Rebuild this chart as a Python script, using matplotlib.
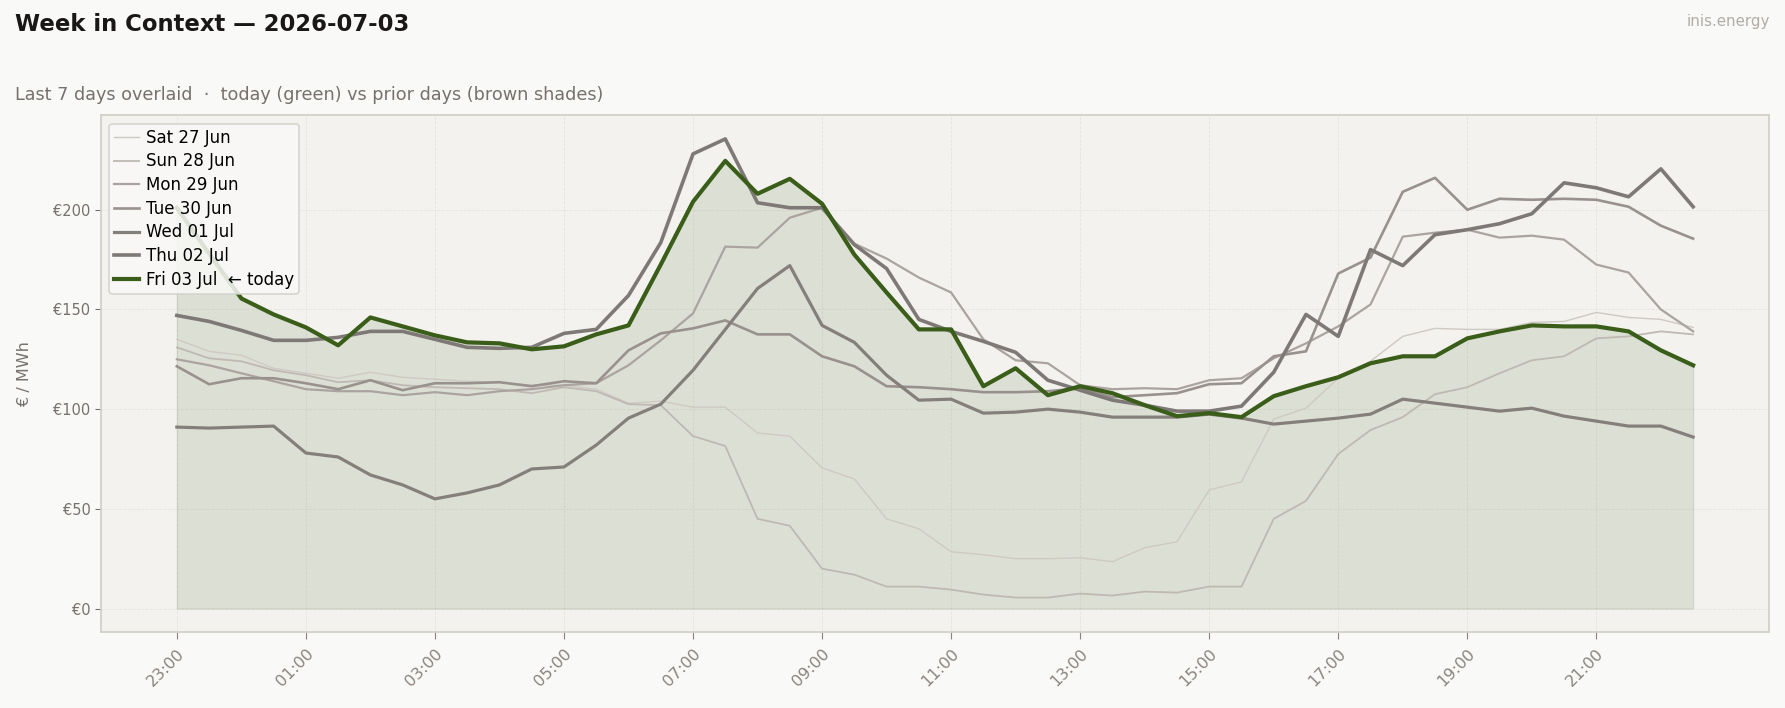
"""Week in context chart: today's price curve against the six prior days."""

import matplotlib
import matplotlib.pyplot as plt
import numpy as np
from matplotlib.ticker import FuncFormatter

matplotlib.use("Agg")

# half-hourly prices, 23:00 -> 22:30 (EUR/MWh)
sat = [135, 129, 127, 120.5, 118, 115.5, 118.5, 116, 115, 114, 113.5, 112, 112, 110,
       103, 104, 101, 101, 88, 86.5, 70.5, 65, 45, 40, 28.5, 27, 25, 25, 25.5,
       23.5, 30.5, 33.5, 59.5, 63.5, 95, 100.5, 115.5, 124, 136.5, 140.5, 140, 140,
       143.5, 144, 148.5, 146, 145, 141]
sun = [131, 125.5, 124, 119.5, 117, 113.5, 114.5, 112, 111, 110.5, 110, 108, 111, 109,
       102.5, 102, 86.5, 81.5, 45, 41.5, 20, 17, 11, 11, 9.5, 7, 5.5, 5.5, 7.5,
       6.5, 8.5, 8, 11, 11, 45, 54, 77.5, 89.5, 96, 107.5, 111, 118, 124.5, 126.5,
       135.5, 136.5, 139, 137.5]
mon = [125, 122, 118, 114, 110, 109, 109, 107, 108.5, 107, 109, 110, 112, 113,
       122, 134.5, 148, 181.5, 181, 196, 201, 183, 175.5, 166, 158.5,
       135, 124.5, 123, 112, 110, 110.5, 110, 114.5, 115.5, 125.5, 133, 141.5, 152.5,
       186.5, 188.5, 190, 186, 187, 185, 172.5, 168.5, 150, 139]
tue = [121.5, 112.5, 115.5, 115.5, 113, 110, 114.5, 109.5, 113, 113, 113.5, 111.5, 114, 113,
       129.5, 138, 140.5, 144.5, 137.5, 137.5, 126.5, 121.5, 111.5, 111, 110, 108.5, 108.5, 109,
       110.5, 106, 107, 108, 112.5, 113, 126.5, 129, 168, 176, 209, 216, 200, 205.5,
       205, 205.5, 205, 201.5, 192, 185.5]
wed = [91, 90.5, 91, 91.5, 78, 76, 67, 62, 55, 58, 62, 70, 71, 82,
       95.5, 102.5, 119.5, 140, 160.5, 172, 142, 133.5, 117, 104.5, 105, 98, 98.5, 100, 98.5,
       96, 96, 96, 97.5, 95.5, 92.5, 94, 95.5, 97.5, 105, 103, 101, 99, 100.5, 96.5,
       94, 91.5, 91.5, 86]
thu = [147, 144, 139.5, 134.5, 134.5, 136, 139, 139, 135, 131, 130.5, 131, 138, 140,
       157, 183.5, 228, 235.5, 203.5, 201, 201, 182.5, 170.5, 145, 139, 134, 128.5, 114.5, 109.5,
       104.5, 102, 99, 99, 101.5, 118.5, 147.5, 136.5, 180, 172, 187.5, 190, 193, 198,
       213.5, 211, 206.5, 220.5, 201.5]
fri = [201, 178, 155.5, 147.5, 141, 132, 146, 141.5, 137, 133.5, 133, 130, 131.5, 137.5,
       142, 172.5, 204, 224.5, 208, 215.5, 203, 177.5, 158.5, 140, 140, 111.5, 120.5, 107, 111.5,
       108, 102, 96.5, 98, 96, 106.5, 111.5, 116, 123, 126.5, 126.5, 135.5, 139, 142,
       141.5, 141.5, 139, 129.5, 122]

prior_days = ["Sat 27 Jun", "Sun 28 Jun", "Mon 29 Jun", "Tue 30 Jun", "Wed 01 Jul", "Thu 02 Jul"]
prior_series = [sat, sun, mon, tue, wed, thu]
today_label = "Fri 03 Jul  \u2190 today"
tick_labels = ["23:00", "01:00", "03:00", "05:00", "07:00", "09:00",
               "11:00", "13:00", "15:00", "17:00", "19:00", "21:00"]

# older days lighter and thinner
prior_colors = ["#cfc9c4", "#bfb8b3", "#aba39f", "#99918d", "#857f7c", "#7e7976"]
prior_widths = [1.0, 1.3, 1.6, 1.9, 2.3, 2.6]
GREEN = "#3a5e1a"
FIG_BG = "#f9f9f7"
AX_BG = "#f3f2ee"
EDGE = "#d3cfc9"


def main() -> None:
    fig = plt.figure(figsize=(17.85, 7.08), dpi=100)
    fig.patch.set_facecolor(FIG_BG)
    ax = fig.add_axes([0.0566, 0.1073, 0.9344, 0.7296])
    ax.set_facecolor(AX_BG)

    x = np.arange(len(fri))
    for label, ys, c, lw in zip(prior_days, prior_series, prior_colors, prior_widths):
        ax.plot(x, ys, color=c, lw=lw, label=label, zorder=2)

    ax.fill_between(x, 0, fri, color=GREEN, alpha=0.12, lw=1, zorder=1)
    ax.plot(x, fri, color=GREEN, lw=3.0, label=today_label, zorder=3)

    ax.set_xticks(x[::4])
    ax.set_xticklabels(tick_labels, rotation=45, ha="right", rotation_mode="anchor",
                       fontsize=11.5, color="#77716d")
    ax.set_yticks([0, 50, 100, 150, 200])
    ax.yaxis.set_major_formatter(FuncFormatter(lambda v, _: f"\u20ac{v:.0f}"))
    ax.tick_params(axis="y", labelsize=10.5, colors="#77716d", length=4)
    ax.tick_params(axis="x", colors="#8a8480", length=5, pad=5)
    ax.set_ylabel("\u20ac / MWh", fontsize=11.5, color="#77716d")
    ax.yaxis.set_label_coords(-0.0415, 0.5)

    ax.grid(True, linestyle="--", color="#e6e3de", lw=0.6)
    ax.set_axisbelow(True)
    for s in ax.spines.values():
        s.set_color(EDGE)
        s.set_linewidth(1.3)

    leg = ax.legend(loc="upper left", fontsize=12, frameon=True, framealpha=0.85,
                    facecolor=FIG_BG, edgecolor=EDGE, borderpad=0.3, labelspacing=0.34,
                    handlelength=1.5, handletextpad=0.4)
    leg.get_frame().set_linewidth(1.2)

    fig.text(0.0084, 0.965, "Week in Context \u2014 2026-07-03", fontsize=16.4, fontweight="bold",
             color="#1a1816", va="center", ha="left")
    fig.text(0.0084, 0.8665, "Last 7 days overlaid  \u00b7  today (green) vs prior days (brown shades)",
             fontsize=12.7, color="#77716d", va="center", ha="left")
    fig.text(0.9916, 0.9695, "inis.energy", fontsize=10.8, color="#b0aca8", va="center", ha="right")

    fig.savefig("out.png", dpi=100, facecolor=fig.get_facecolor())
    plt.close(fig)


if __name__ == "__main__":
    main()
